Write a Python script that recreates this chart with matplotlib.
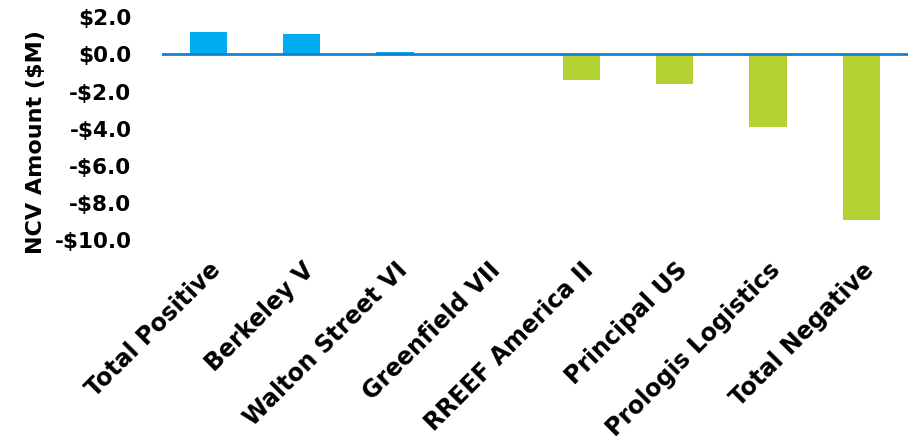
import numpy as np
import matplotlib.pyplot as plt

# data
funds = ['Total Positive', 'Berkeley V', 'Walton Street VI', 'Greenfield VII',
         'RREEF America II', 'Principal US', 'Prologis Logistics', 'Total Negative']
ncv = [1.19, 1.08, 0.12, 0.02, -1.4, -1.62, -3.93, -8.95]
yticks = [2, 0, -2, -4, -6, -8, -10]

pos_color = '#00AEEF'
neg_color = '#B3D335'

plt.rcParams['font.family'] = ['DejaVu Sans']
plt.rcParams['font.weight'] = 'bold'

fig = plt.figure(figsize=(9.13, 4.44), dpi=100)
ax = fig.add_axes([0.1774, 0.4595, 0.8171, 0.5015])

x = np.arange(len(funds))
colors = [pos_color if v >= 0 else neg_color for v in ncv]
ax.bar(x, ncv, width=0.4, color=colors, zorder=2)
ax.axhline(0, color='#1A7FD0', lw=2, zorder=3)

ax.set_xlim(-0.5, len(funds) - 0.5)
ax.set_ylim(-10, 2)
ax.set_yticks(yticks)
ax.set_yticklabels(['$%.1f' % v if v >= 0 else '-$%.1f' % abs(v) for v in yticks],
                   fontsize=15.5, fontweight='bold')
ax.set_xticks(x)
ax.set_xticklabels(funds, rotation=45, ha='right', rotation_mode='anchor',
                   fontsize=17, fontweight='bold')
ax.tick_params(axis='y', length=0, pad=22)
ax.tick_params(axis='x', length=0, pad=13)

for s in ax.spines.values():
    s.set_visible(False)

ax.set_ylabel('NCV Amount ($M)', fontsize=16, fontweight='bold')
ax.yaxis.set_label_coords(-0.156, 0.44)

fig.savefig('out.png', dpi=100)
